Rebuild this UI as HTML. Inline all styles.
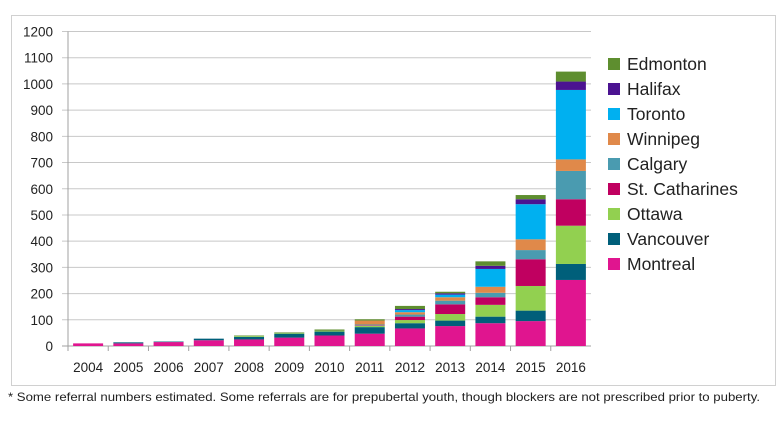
<!DOCTYPE html>
<html><head><meta charset="utf-8"><style>
body{margin:0;background:#fff;font-family:"Liberation Sans",sans-serif}
</style></head><body>
<svg width="780" height="423" id="c" xmlns="http://www.w3.org/2000/svg">
<rect x="11.5" y="15.5" width="764" height="370" fill="#fff" stroke="#d0d0d0"/>
<text x="8" y="401" font-size="12" textLength="752" lengthAdjust="spacingAndGlyphs" fill="#222">* Some referral numbers estimated. Some referrals are for prepubertal youth, though blockers are not prescribed prior to puberty.</text>
</svg>
<script>
const years=["2004","2005","2006","2007","2008","2009","2010","2011","2012","2013","2014","2015","2016"];
const series=["Montreal","Vancouver","Ottawa","St. Catharines","Calgary","Winnipeg","Toronto","Halifax","Edmonton"];
const colors=["#e0158f","#005f7a","#92d050","#c00060","#4a9bb0","#e0894a","#00b0f0","#4b1391","#5e8e2f"];
const montreal=[10,10,15,22,25,32,40,47,67,76,87,95,252];
const vancouver=[0,4,2,6,10,15,15,25,20,21,25,40,61];
const ottawa=[0,0,0,0,3,3,3,5,12,25,45,94,146];
const stcath=[0,0,0,0,0,0,0,2,13,37,29,102,101];
const calgary=[0,0,0,0,0,0,0,3,8,14,17,35,108];
const winnipeg=[0,0,0,0,0,0,0,15,9,13,23,41,44];
const toronto=[0,0,0,0,0,0,0,0,8,10,68,134,265];
const halifax=[0,0,0,0,0,0,0,0,4,5,12,19,32];
const edmonton=[0,0,0,0,2,2,5,5,12,6,17,16,38];
const yTicks=[0,100,200,300,400,500,600,700,800,900,1000,1100,1200];
const data=[montreal,vancouver,ottawa,stcath,calgary,winnipeg,toronto,halifax,edmonton];
const NS="http://www.w3.org/2000/svg",svg=document.getElementById('c');
const x0=68,x1=591,y0=346,y1=31.5,ymax=1200;
const yS=v=>y0-(y0-y1)*v/ymax;
const band=(x1-x0)/years.length;
const xS=i=>x0+band*i;
function mk(t,a){const e=document.createElementNS(NS,t);for(const k in a)e.setAttribute(k,a[k]);svg.appendChild(e);return e;}
yTicks.forEach(v=>{
 const l=mk('line',{x1:x0-6,x2:x1,y1:yS(v),y2:yS(v),stroke:v===0?'#a0a0a0':'#c8c8c8','stroke-width':1});
 
 
 const t=mk('text',{x:53,y:yS(v)+5,'font-size':13.5,'text-anchor':'end',fill:'#222'});t.textContent=v;
 
 
});
const ax=mk('line',{x1:x0,x2:x0,y1:y1,y2:y0,stroke:'#a0a0a0'});


years.forEach((yr,i)=>{
 const tk=mk('line',{x1:xS(i),x2:xS(i),y1:y0,y2:y0+5,stroke:'#a0a0a0'});
 
 
 const t=mk('text',{x:xS(i)+band/2,y:372,'font-size':13.5,'text-anchor':'middle',fill:'#222'});t.textContent=yr;
 
 
 let acc=0;const bw=30,bx=xS(i)+(band-bw)/2;
 data.forEach((s,k)=>{const v=s[i];if(v<=0)return;
  const r=mk('rect',{x:bx,y:yS(acc+v),width:bw,height:yS(acc)-yS(acc+v),fill:colors[k]});
  
  
  acc+=v;});
});
const order=[8,7,6,5,4,3,2,1,0];
order.forEach((k,j)=>{const y=64+j*25;
 const r=mk('rect',{x:608,y:y-6,width:12,height:12,fill:colors[k]});
 
 
 const t=mk('text',{x:627,y:y+6,'font-size':17.5,fill:'#222'});t.textContent=series[k];
 
 
});
</script>
</body></html>
